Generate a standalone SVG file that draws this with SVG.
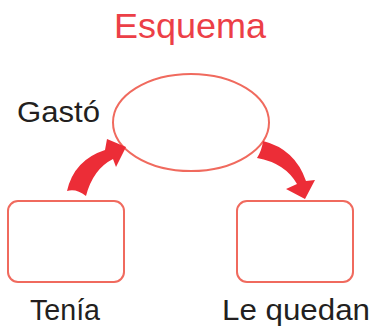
<svg xmlns="http://www.w3.org/2000/svg" width="373" height="327" viewBox="0 0 373 327">
<style>
.shape{fill:#fff;stroke:#f06a5e;stroke-width:2}
.lbl{font-family:"Liberation Sans",Arial,sans-serif;font-size:30px;fill:#231f20}
.title{font-family:"Liberation Sans",Arial,sans-serif;font-size:35px;fill:#ec3f47}
.arr{fill:#ec2d37}
</style>
<rect width="373" height="327" fill="#fff"/>
<text class="title" x="114" y="38" textLength="152" lengthAdjust="spacingAndGlyphs">Esquema</text>
<g id="gasto">
<ellipse class="shape" cx="191" cy="122.5" rx="78" ry="48.5"/>
<text class="lbl" x="17" y="122" textLength="83" lengthAdjust="spacingAndGlyphs">Gastó</text>
</g>
<g id="tenia">
<rect class="shape" x="8" y="201" width="116" height="81" rx="10"/>
<text class="lbl" x="30" y="320" textLength="70" lengthAdjust="spacingAndGlyphs">Tenía</text>
</g>
<g id="le-quedan">
<rect class="shape" x="237" y="201" width="116" height="81" rx="10"/>
<text class="lbl" x="222" y="320" textLength="148" lengthAdjust="spacingAndGlyphs">Le quedan</text>
</g>
<g id="connectors">
<path class="arr" d="M67,191 Q74,160 105,150 L107,139 L126,147 L116,167 L113,159 Q93,169 86,196 Q76,188 67,191 Z"/>
<path class="arr" d="M263,141 Q295,149 306,181 L315,180 L305,199 L286,189 L297,184 Q285,163 257,158 Q262,150 263,141 Z"/>
</g>
</svg>
